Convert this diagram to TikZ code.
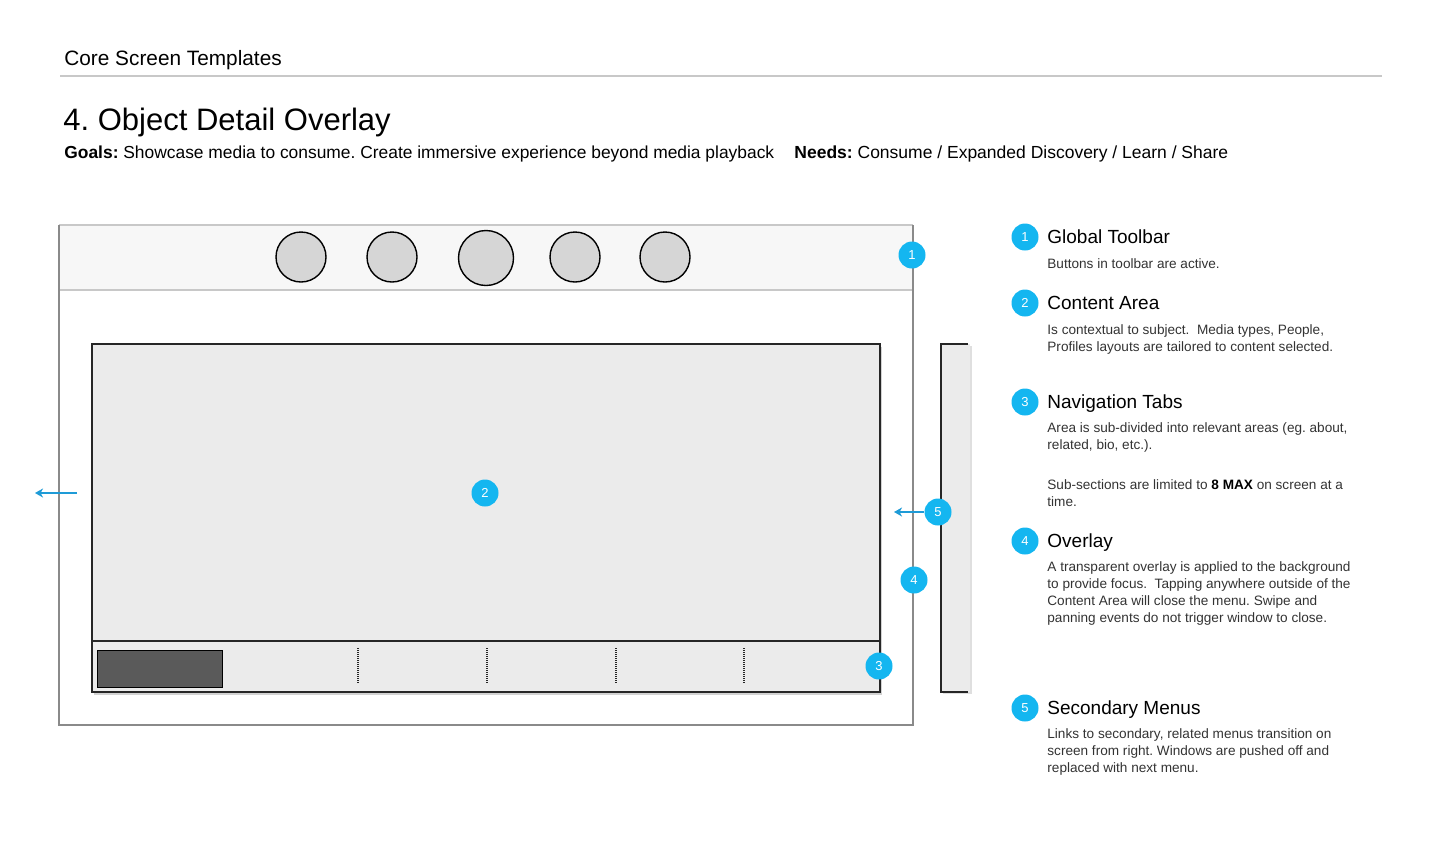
\documentclass[tikz,border=0pt]{standalone}
\usepackage{fontspec}
\setmainfont{Liberation Sans}
\usetikzlibrary{shadows,arrows.meta}
\definecolor{badgeblue}{HTML}{14B6F0}
\definecolor{arrowblue}{HTML}{1E9BD7}
\definecolor{btngray}{HTML}{D6D6D6}
\definecolor{areagray}{HTML}{EBEBEB}
\definecolor{tabdark}{HTML}{5A5A5A}
\definecolor{bargray}{HTML}{F7F7F7}
\definecolor{framegray}{HTML}{8A8A8A}
\definecolor{linegray}{HTML}{C8C8C8}
\definecolor{textgray}{HTML}{333333}
\frenchspacing
\begin{document}
\begin{tikzpicture}[x=0.5pt,y=-0.5pt,
  badge/.style={circle, fill=badgeblue, text=white, font=\fontsize{6.5}{7}\selectfont, minimum size=13.5pt, inner sep=0pt},
  button/.style={circle, draw=black, line width=0.7pt, fill=btngray, minimum size=25pt, inner sep=0pt},
  head/.style={anchor=base west, inner sep=0pt, font=\fontsize{9.5}{10}\selectfont, text=black},
  bodytext/.style={anchor=base west, inner sep=0pt, font=\fontsize{6.8}{8}\selectfont, text=textgray},
  bluearrow/.style={draw=arrowblue, line width=0.8pt, -{Stealth[length=4pt,width=4.5pt,inset=1.2pt]}},
  tabsep/.style={draw=black!85, line width=0.6pt, dash pattern=on 0.5pt off 0.5pt}
]
\useasboundingbox (0,0) rectangle (1440,859);

% header
\node[anchor=base west, inner sep=0pt, font=\fontsize{10.4}{11}\selectfont] (hdr) at (64,65) {Core Screen Templates};
\draw[linegray, line width=0.6pt] (60,76) -- (1382,76);
\node[anchor=base west, inner sep=0pt, font=\fontsize{15.5}{18}\selectfont] (title) at (63,130) {4. Object Detail Overlay};
\node[anchor=base west, inner sep=0pt, font=\fontsize{8.7}{10}\selectfont] (goals) at (64,158) {\textbf{Goals:} Showcase media to consume. Create immersive experience beyond media playback};
\node[anchor=base west, inner sep=0pt, font=\fontsize{8.75}{10}\selectfont] (needs) at (794,158) {\textbf{Needs:} Consume / Expanded Discovery / Learn / Share};

% side panel (secondary menu)
\fill[areagray, drop shadow={opacity=0.25, shadow xshift=0.8pt, shadow yshift=-1pt}] (941,344) rectangle (970,692);
\draw[black!85, line width=0.6pt] (968,344) -- (941,344) -- (941,692) -- (968,692);

% outer screen frame
\fill[white] (59,225) rectangle (913,725);
\fill[bargray] (59,225) rectangle (913,290);
\draw[linegray, line width=0.6pt] (59,290) -- (913,290);
\draw[linegray, line width=0.6pt] (59,225) -- (913,225);
\draw[framegray, line width=0.6pt] (913,225) -- (913,725) -- (59,725) -- (59,225);

% toolbar buttons
\node[button] (b1) at (301,257) {};
\node[button] (b2) at (392,257) {};
\node[button, minimum size=27.5pt] (b3) at (486,258) {};
\node[button] (b4) at (575,257) {};
\node[button] (b5) at (665,257) {};

% content area
\fill[areagray, drop shadow={opacity=0.35, shadow xshift=0.8pt, shadow yshift=-1.5pt}] (92,344) rectangle (880,692);
\draw[black!85, line width=0.7pt] (92,344) rectangle (880,692);
\draw[black!85, line width=0.7pt] (92,641) -- (880,641);
\node[draw=black, line width=0.6pt, fill=tabdark, anchor=north west, minimum width=62.5pt, minimum height=18.5pt, inner sep=0pt] (tab1) at (97,650) {};
\coordinate (s1t) at (358,648); \coordinate (s1b) at (358,684);
\coordinate (s2t) at (487,648); \coordinate (s2b) at (487,684);
\coordinate (s3t) at (616,648); \coordinate (s3b) at (616,684);
\coordinate (s4t) at (744,648); \coordinate (s4b) at (744,684);
\draw[tabsep] (s1t) -- (s1b);
\draw[tabsep] (s2t) -- (s2b);
\draw[tabsep] (s3t) -- (s3b);
\draw[tabsep] (s4t) -- (s4b);

% badges on the diagram
\node[badge] (n1) at (912,255) {1};
\node[badge] (n2) at (485,493) {2};
\node[badge] (n3) at (879,666) {3};
\node[badge] (n4) at (914,580) {4};
\node[badge] (n5) at (938,512) {5};

% arrows
\coordinate (a5) at (894,512);
\draw[bluearrow] (n5.west) -- (a5);
\coordinate (la1) at (77,493);
\coordinate (la2) at (35,493);
\draw[bluearrow] (la1) -- (la2);

% legend
\node[badge] (l1) at (1025,237) {1};
\node[head] (h1) at (1047,243) {Global Toolbar};
\node[bodytext] (t1a) at (1047,268) {Buttons in toolbar are active.};

\node[badge] (l2) at (1025,303) {2};
\node[head] (h2) at (1047,309) {Content Area};
\node[bodytext] (t2a) at (1047,334) {Is contextual to subject.\ \ Media types, People,};
\node[bodytext] (t2b) at (1047,351) {Profiles layouts are tailored to content selected.};

\node[badge] (l3) at (1025,402) {3};
\node[head] (h3) at (1047,408) {Navigation Tabs};
\node[bodytext] (t3a) at (1047,432) {Area is sub-divided into relevant areas (eg. about,};
\node[bodytext] (t3b) at (1047,449) {related, bio, etc.).};
\node[bodytext] (t3c) at (1047,489) {Sub-sections are limited to \textbf{\color{black}8 MAX} on screen at a};
\node[bodytext] (t3d) at (1047,506) {time.};

\node[badge] (l4) at (1025,541) {4};
\node[head] (h4) at (1047,547) {Overlay};
\node[bodytext] (t4a) at (1047,571) {A transparent overlay is applied to the background};
\node[bodytext] (t4b) at (1047,588) {to provide focus.\ \ Tapping anywhere outside of the};
\node[bodytext] (t4c) at (1047,605) {Content Area will close the menu. Swipe and};
\node[bodytext] (t4d) at (1047,622) {panning events do not trigger window to close.};

\node[badge] (l5) at (1025,708) {5};
\node[head] (h5) at (1047,714) {Secondary Menus};
\node[bodytext] (t5a) at (1047,738) {Links to secondary, related menus transition on};
\node[bodytext] (t5b) at (1047,755) {screen from right. Windows are pushed off and};
\node[bodytext] (t5c) at (1047,772) {replaced with next menu.};
\end{tikzpicture}
\end{document}
